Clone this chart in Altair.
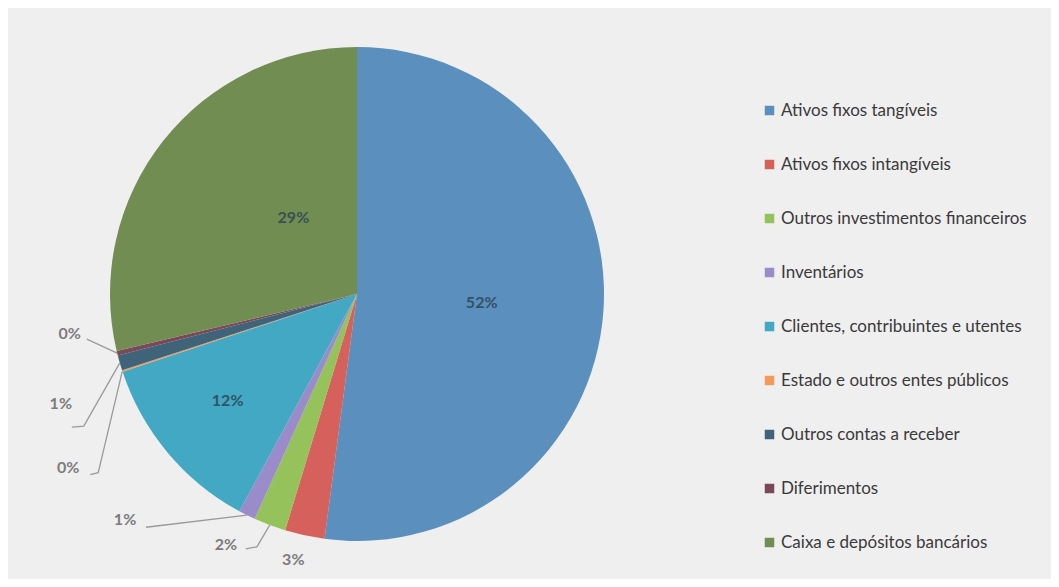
import math
import altair as alt
import pandas as pd

# ---- data ----
categories = [
    "Ativos fixos tangíveis",
    "Ativos fixos intangíveis",
    "Outros investimentos financeiros",
    "Inventários",
    "Clientes, contribuintes e utentes",
    "Estado e outros entes públicos",
    "Outros contas a receber",
    "Diferimentos",
    "Caixa e depósitos bancários",
]
values = [52.1, 2.6, 2.1, 1.1, 12.0, 0.1, 1.0, 0.3, 28.7]

# ---- style ----
colors = ["#5a8fbe", "#d6605b", "#95c25a", "#9a8ccb", "#42a8c3",
          "#f39a5a", "#3f6379", "#7b4858", "#728d52"]
CX, CY, R = 349, 286, 247          # pie centre / radius (px)
FONT = "Lato"

# label placement: inside (True) / outside, angular shift (deg) and radius (px)
label_inside = [True, False, False, False, True, False, False, False, True]
label_shift = [0.3, 1.2, 6.9, 19.25, 0.3, -12.85, -4.2, 5.9, 11.7]
label_radius = [125, 274, 283, 324, 168, 337, 316, 290, 99]
# leader-line bend points relative to label centre (px)
leader_pts = [
    [], [], [(20, 4), (31, 2)], [(21, 7)], [],
    [(22, 7), (30, 5)], [(11, 23), (23, 22)], [(17, 5)], [],
]

total = sum(values)
df = pd.DataFrame({"cat": categories, "value": values, "idx": range(len(values))})

# label positions derived from the slices' mid angles
rows, lines = [], []
cum = 0.0
for i, (c, v) in enumerate(zip(categories, values)):
    mid = (cum + v / 2) / total * 2 * math.pi
    cum += v
    th = mid + math.radians(label_shift[i])
    lx = CX + label_radius[i] * math.sin(th)
    ly = CY - label_radius[i] * math.cos(th)
    pct = f"{round(v / total * 100):d}%"
    rows.append({"cat": c, "x": lx, "y": ly, "txt": pct, "inside": label_inside[i]})
    if leader_pts[i]:
        pts = [(lx + dx, ly + dy) for dx, dy in leader_pts[i]]
        pts.append((CX + R * math.sin(mid), CY - R * math.cos(mid)))
        for k, (px, py) in enumerate(pts):
            lines.append({"cat": c, "k": k, "x": px, "y": py})

labels = pd.DataFrame(rows)
leaders = pd.DataFrame(lines)

color_scale = alt.Scale(domain=categories, range=colors)

pie = alt.Chart(df).mark_arc(radius=R, stroke=None).encode(
    theta=alt.Theta("value:Q", stack=True),
    order=alt.Order("idx:Q"),
    color=alt.Color(
        "cat:N", scale=color_scale, sort=categories,
        legend=alt.Legend(
            title=None, orient="none", legendX=753, legendY=94,
            symbolType="square", symbolSize=90, symbolStrokeWidth=0,
            labelFont=FONT, labelFontSize=17, labelColor="#3a3a3a",
            rowPadding=36, labelOffset=3, padding=0, labelLimit=400,
        ),
    ),
    x=alt.value(CX), y=alt.value(CY),
)

lead = alt.Chart(leaders).mark_line(color="#9a9a9a", strokeWidth=1.3).encode(
    x=alt.X("x:Q", scale=None), y=alt.Y("y:Q", scale=None),
    detail="cat:N", order="k:Q",
)

out_txt = alt.Chart(labels).transform_filter("!datum.inside").mark_text(
    font=FONT, fontSize=16, color="#7c7c7c", fontWeight="bold"
).encode(x=alt.X("x:Q", scale=None), y=alt.Y("y:Q", scale=None), text="txt:N")

in_txt = alt.Chart(labels).transform_filter("datum.inside").mark_text(
    font=FONT, fontSize=16, color="#2e4656", fontWeight="bold", opacity=0.85
).encode(x=alt.X("x:Q", scale=None), y=alt.Y("y:Q", scale=None), text="txt:N")

chart = alt.layer(pie, lead, out_txt, in_txt).properties(
    width=1043, height=571, autosize=alt.AutoSizeParams(type="none"), padding=0,
    background="#efefef",
).configure_view(stroke=None)

chart.save("out.html", embed_options={"renderer": "svg", "actions": False})
